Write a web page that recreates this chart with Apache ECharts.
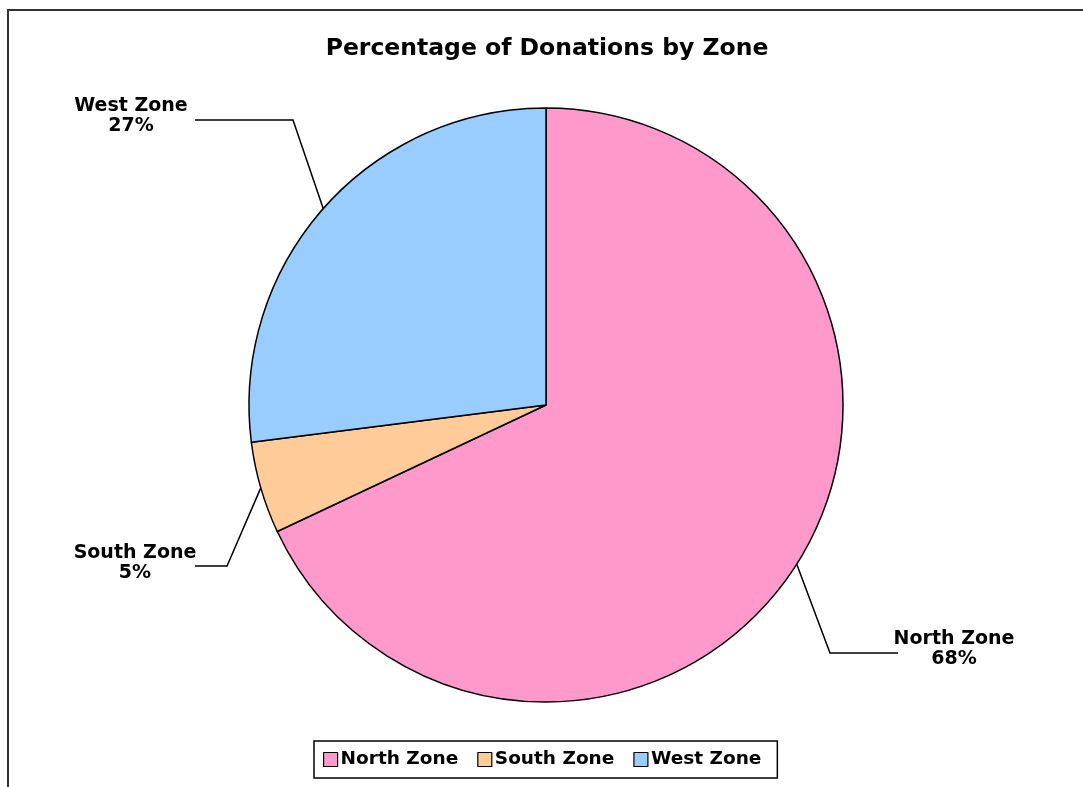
<!DOCTYPE html>
<html>
<head>
<meta charset="utf-8">
<script src="https://cdn.jsdelivr.net/npm/echarts@6/dist/echarts.min.js"></script>
<style>
  html, body { margin: 0; padding: 0; background: #fff; }
  #chart { width: 1083px; height: 787px; }
</style>
</head>
<body>
<div id="chart"></div>
<script>
// ---- data ----
const categories = ['North Zone', 'South Zone', 'West Zone'];
const values = [68, 5, 27];
const colors = ['#FF99CC', '#FFCC99', '#99CCFF'];
const chartTitle = 'Percentage of Donations by Zone';

// ---- label layout (positions only, not data) ----
const labelPlacement = [
  { x: 954, y: 649, corner: [830, 653], end: [898, 653] },
  { x: 135, y: 563, corner: [227, 566], end: [195, 566] },
  { x: 131, y: 116, corner: [293, 120], end: [195, 120] }
];

const FONT = 'DejaVu Sans';
const chart = echarts.init(document.getElementById('chart'));

chart.setOption({
  animation: false,
  backgroundColor: '#ffffff',
  title: {
    text: chartTitle,
    left: 542,
    textAlign: 'center',
    top: 32,
    textStyle: { fontFamily: FONT, fontWeight: 'bold', fontSize: 23.5, color: '#000' }
  },
  legend: {
    data: categories,
    bottom: 9,
    left: 314,
    orient: 'horizontal',
    icon: 'rect',
    itemWidth: 14,
    itemHeight: 14,
    itemGap: 19,
    padding: [9, 16, 9, 9],
    borderColor: '#000',
    borderWidth: 1.5,
    itemStyle: { borderColor: '#000', borderWidth: 1.2 },
    textStyle: { fontFamily: FONT, fontWeight: 'bold', fontSize: 18.5, color: '#000', padding: [0, 0, 0, -2] }
  },
  graphic: [{
    type: 'rect',
    shape: { x: 8, y: 10, width: 1200, height: 900 },
    style: { fill: 'none', stroke: '#333', lineWidth: 2 },
    silent: true,
    z: 100
  }],
  series: [{
    type: 'pie',
    center: [546, 405],
    radius: 297,
    startAngle: 90,
    clockwise: true,
    avoidLabelOverlap: false,
    data: categories.map((name, i) => ({ name, value: values[i], itemStyle: { color: colors[i] } })),
    itemStyle: { borderColor: '#000', borderWidth: 1.5 },
    label: {
      show: true,
      position: 'outside',
      formatter: '{b}\n{d}%',
      fontFamily: FONT,
      fontWeight: 'bold',
      fontSize: 19,
      lineHeight: 20,
      color: '#000'
    },
    labelLine: {
      show: true,
      length: 20,
      length2: 20,
      lineStyle: { color: '#000', width: 1.5 }
    },
    labelLayout: function (params) {
      const p = labelPlacement[params.dataIndex];
      const start = params.labelLinePoints ? params.labelLinePoints[0] : p.corner;
      return {
        x: p.x,
        y: p.y,
        align: 'center',
        verticalAlign: 'middle',
        labelLinePoints: [start, p.corner, p.end]
      };
    },
    emphasis: { disabled: true }
  }]
});
</script>
</body>
</html>
